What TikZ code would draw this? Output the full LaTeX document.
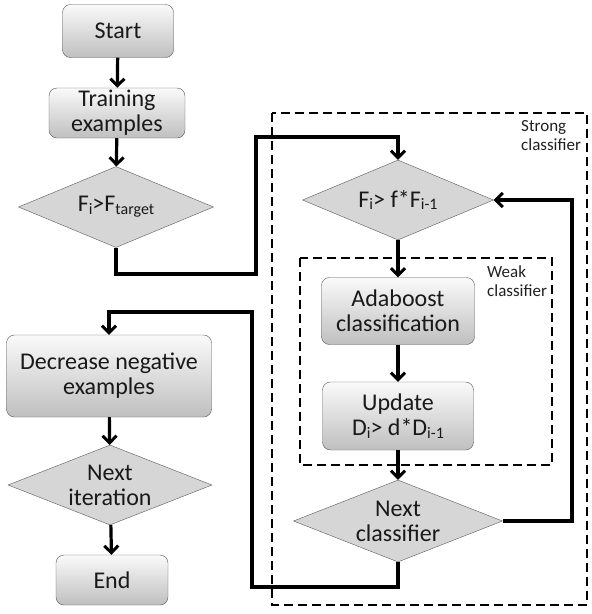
\documentclass[tikz,border=0pt]{standalone}
\usepackage{fontspec}
\setmainfont{Carlito}
\usetikzlibrary{positioning,shapes.geometric,arrows.meta}
\newcommand{\lowsub}[1]{\raisebox{-0.12em}{\fontsize{16}{16}\selectfont #1}}

\begin{document}
\begin{tikzpicture}[x=1pt,y=-1pt,
box/.style={draw=gray!70!black,rounded corners=8pt,top color=gray!4,bottom color=gray!50,
    align=center,text=gray!20!black,font=\fontsize{24}{25}\selectfont,inner sep=2pt},
dec/.style={draw=gray!70!black,diamond,fill=gray!32,aspect=2.4,inner sep=0pt,
    align=center,text=gray!20!black,font=\fontsize{24}{25}\selectfont},
flow/.style={line width=3.2pt,-{Straight Barb[length=7pt,width=14pt,line width=3pt]}},
grp/.style={draw,line width=1.8pt,dash pattern=on 9pt off 5pt},
lbl/.style={text=gray!25!black,font=\fontsize{17}{19}\selectfont,align=left,inner sep=0pt}]
\useasboundingbox (0,0) rectangle (592,614);

% group boxes
\draw[grp] (272,113) rectangle (587,605);
\draw[grp] (300,258) rectangle (552,465);
\node (strlbl) [lbl,anchor=north west] at (521,120) {Strong\\classifier};
\node (wklbl) [lbl,anchor=north west] at (487,265) {Weak\\classifier};

% left column
\node (start) [box,minimum width=111pt,minimum height=53pt] at (118,31) {Start};
\node (train) [box,minimum width=136pt,minimum height=50pt] at (117,113) {Training\\examples};
\node (ftgt) [dec,minimum width=195pt,minimum height=81pt] at (116,207)
    {F\lowsub{i}>F\lowsub{target}};
\node (decr) [box,minimum width=205pt,minimum height=82pt] at (109,376) {Decrease negative\\examples};
\node (nxti) [dec,minimum width=204pt,minimum height=80pt] at (110,485) {Next\\iteration};
\node (end) [box,minimum width=112pt,minimum height=50pt] at (112,580) {End};

% right column
\node (fprev) [dec,minimum width=191pt,minimum height=80pt] at (398,200)
    {F\lowsub{i}> f*F\lowsub{i-1}};
\node (ada) [box,minimum width=153pt,minimum height=67pt] at (398,311) {Adaboost\\classification};
\node (upd) [box,minimum width=151pt,minimum height=68pt] at (398,416)
    {Update\\D\lowsub{i}> d*D\lowsub{i-1}};
\node (nxtc) [dec,minimum width=209pt,minimum height=82pt] at (398,521) {Next\\classifier};

\coordinate (ja) at (256,274);
\coordinate (jb) at (256,137);
\coordinate (lp) at (572,200);
\coordinate (xa) at (252,587);
\coordinate (xb) at (252,312);

\draw[flow] (start) -- (train);
\draw[flow] (train) -- (ftgt);
\draw[flow] (ftgt.south) |- (ja) -- (jb) -| (fprev.north);
\draw[flow] (fprev) -- (ada);
\draw[flow] (ada) -- (upd);
\draw[flow] (upd) -- (nxtc);
\draw[flow] (nxtc.east) -| (lp) -- (fprev.east);
\draw[flow] (nxtc.south) |- (xa) -- (xb) -| (decr.north);
\draw[flow] (decr) -- (nxti);
\draw[flow] (nxti) -- (end);
\end{tikzpicture}
\end{document}
